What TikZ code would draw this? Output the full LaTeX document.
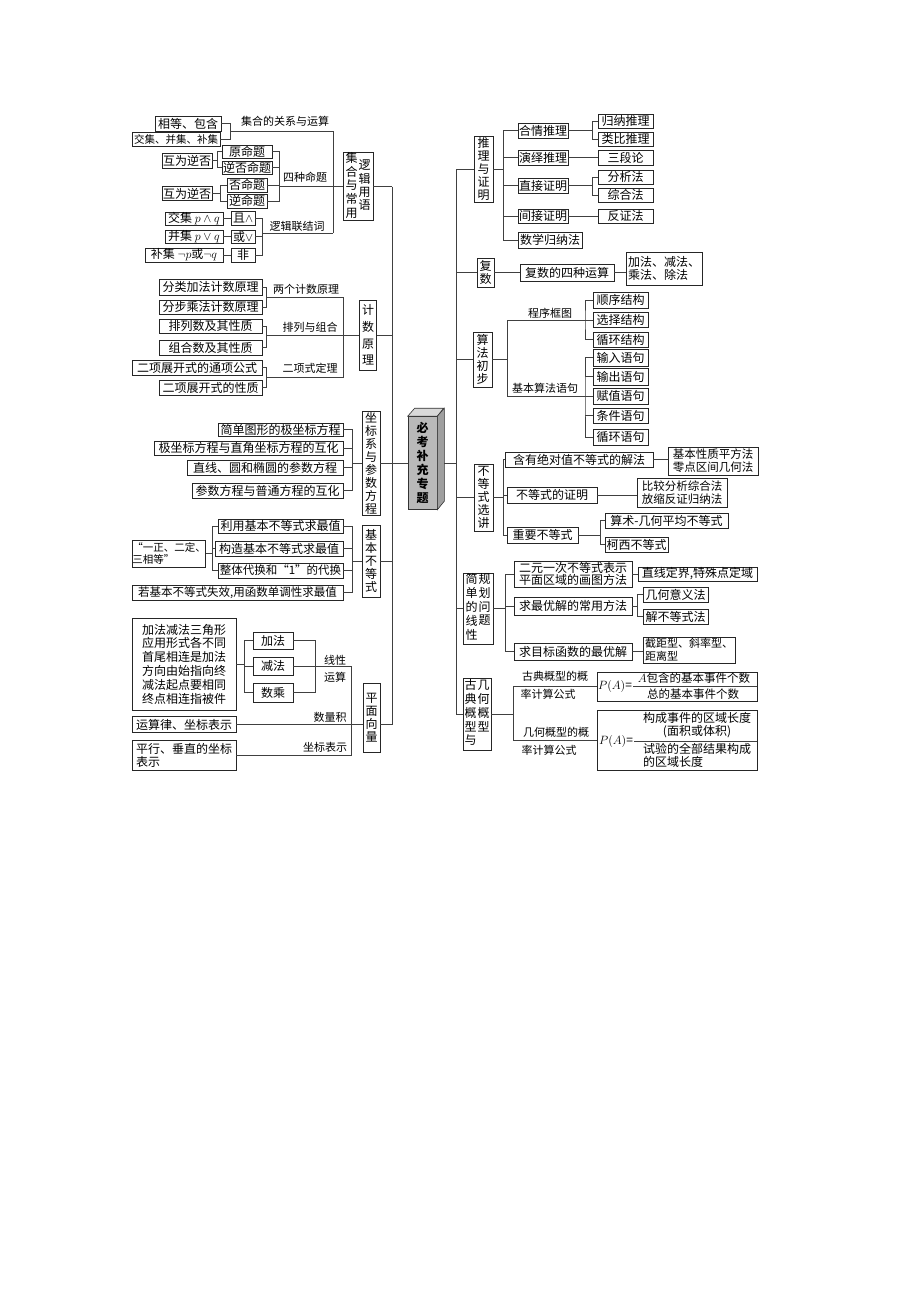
\documentclass[tikz,border=0pt]{standalone}
\usepackage{fontspec}
\setmainfont{Noto Sans CJK SC}
\usetikzlibrary{calc}
\newcommand\cnf{\fontsize{12}{13}\selectfont}
\newcommand\cnv{\fontsize{12}{13}\selectfont}
\newcommand\lbf{\fontsize{11}{12}\selectfont}
\newcommand\bx[7][]{\node[box,minimum width=#5pt,minimum height=#6pt,#1] (#2) at (#3,#4) {#7};}
\newcommand\tcol[2][c]{\begin{tabular}[#1]{@{}c@{}}#2\end{tabular}}
\begin{document}
\begin{tikzpicture}[x=1pt,y=-1pt,
  box/.style={draw=black!85,line width=0.9pt,fill=white,inner sep=0pt,font=\cnf,align=center},
  ln/.style={draw=black!75,line width=0.7pt},
  lab/.style={font=\lbf,inner sep=0pt}]
\fill[white] (0,0) rectangle (920,1302);
\useasboundingbox (0,0) rectangle (920,1302);

% ---------------- left: sets and logic
\bx{r1}{188}{123.5}{66}{15}{相等、包含}
\bx[font=\fontsize{10.5}{12}\selectfont]{r2}{176}{139}{88}{14}{交集、并集、补集}
\bx{yuan}{247}{151.5}{50}{13}{原命题}
\bx{nfou}{247}{167.5}{50}{13}{逆否命题}
\bx{fou}{247}{185}{40}{14}{否命题}
\bx{ni}{247}{201}{40}{14}{逆命题}
\bx{hw1}{187}{160.5}{50}{15}{互为逆否}
\bx{hw2}{187}{193.5}{50}{14}{互为逆否}
\bx{jiao}{194}{218.5}{58}{13}{交集\ $p\wedge q$}
\bx{qie}{243}{218.5}{24}{14}{且$\wedge$}
\bx{bing}{194}{236.5}{58}{13}{并集\ $p\vee q$}
\bx{huo}{243}{236.5}{24}{13}{或$\vee$}
\bx{bu}{184}{255}{78}{14}{补集\ $\neg p$或$\neg q$}
\bx{fei}{243}{255}{24}{14}{非}
\bx[font=\cnv]{L1}{358}{186.5}{30}{67}{\tcol{集\\合\\与\\常\\用}\hspace{1pt}\tcol{逻\\辑\\用\\语}}

\coordinate (jA) at (333,131);
\coordinate (jB) at (333,233);
\coordinate (T1) at (392,186.5);
\coordinate (T2) at (392,724.5);
\draw[ln] (r1.east) -- ++(9,0) coordinate (t1) |- (r2.east);
\draw[ln] (t1 |- jA) -- (jA) -- (jB);
\draw[ln] (yuan.east) -- ++(7,0) coordinate (t2) |- (ni.east);
\draw[ln] (nfou.east) -- (nfou.east -| t2);
\draw[ln] (fou.east) -- (fou.east -| t2);
\draw[ln] (t2 |- L1.west) -- (L1.west);
\draw[ln] (hw1.east) -- ++(5,0) coordinate (t3);
\draw[ln] (yuan.west) -| (t3) |- (nfou.west);
\draw[ln] (hw2.east) -- ++(8,0) coordinate (t4);
\draw[ln] (fou.west) -| (t4) |- (ni.west);
\draw[ln] (jiao.east) -- (qie.west);
\draw[ln] (bing.east) -- (huo.west);
\draw[ln] (bu.east) -- (fei.west);
\draw[ln] (qie.east) -- ++(7,0) coordinate (t5) |- (fei.east);
\draw[ln] (huo.east) -- (huo.east -| t5);
\draw[ln] (t5 |- jB) -- (jB);
\draw[ln] (L1.east) -- (T1);
\draw[ln] (T1) -- (T2);
\node[lab] (lb1) at (285,121) {集合的关系与运算};
\node[lab] (lb2) at (305,177) {四种命题};
\node[lab] (lb3) at (297,226) {逻辑联结词};

% ---------------- counting
\bx{c1}{210.5}{287}{103}{16}{分类加法计数原理}
\bx{c2}{210.5}{307}{103}{14}{分步乘法计数原理}
\bx{c3}{210.5}{326}{103}{14}{排列数及其性质}
\bx{c4}{210.5}{347.5}{103}{15}{组合数及其性质}
\bx{c5}{197}{367.5}{130}{15}{二项展开式的通项公式}
\bx{c6}{210.5}{387.5}{103}{15}{二项展开式的性质}
\bx[font=\fontsize{12}{16.7}\selectfont]{L2}{368}{335}{17}{70}{计\\数\\原\\理}
\coordinate (jC) at (343,297);
\coordinate (jD) at (343,377);
\draw[ln] (c1.east) -- ++(4,0) coordinate (t6) |- (c2.east);
\draw[ln] (c3.east) -- ++(4,0) coordinate (t7) |- (c4.east);
\draw[ln] (c5.east) -- ++(4,0) coordinate (t8) |- (c6.east);
\draw[ln] (t6 |- jC) -- (jC) -- (jD) -- (t8 |- jD);
\draw[ln] (t7 |- L2.west) -- (L2.west);
\draw[ln] (L2.east) -- (L2.east -| T1);
\node[lab] (lb4) at (306,289) {两个计数原理};
\node[lab] (lb5) at (310,327) {排列与组合};
\node[lab] (lb6) at (310,368) {二项式定理};

% ---------------- coordinates & parametric
\bx{k1}{280.5}{429.5}{125}{13}{简单图形的极坐标方程}
\bx{k2}{248.5}{448}{189}{14}{极坐标方程与直角坐标方程的互化}
\bx{k3}{265}{467.5}{156}{15}{直线、圆和椭圆的参数方程}
\bx{k4}{267.5}{490.5}{151}{15}{参数方程与普通方程的互化}
\bx[font=\cnv]{L3}{371}{463}{18}{104}{坐\\标\\系\\与\\参\\数\\方\\程}
\draw[ln] (k1.east) -- ++(9,0) coordinate (t9) |- (k4.east);
\draw[ln] (k2.east) -- (k2.east -| t9);
\draw[ln] (k3.east) -- (k3.east -| t9);
\draw[ln] (t9 |- L3.west) -- (L3.west);

% ---------------- basic inequality
\bx[font=\fontsize{10.5}{12.5}\selectfont,align=left]{b0}{169}{553.5}{72}{27}{“一正、二定、\\三相等”}
\bx{b1}{280.5}{526}{125}{14}{利用基本不等式求最值}
\bx{b2}{279}{548.5}{128}{15}{构造基本不等式求最值}
\bx[font=\fontsize{11.5}{12}\selectfont]{b3}{280.5}{570.5}{125}{15}{整体代换和“1”的代换}
\bx[font=\fontsize{11.5}{12}\selectfont]{b4}{237.5}{592.5}{211}{15}{若基本不等式失效,用函数单调性求最值}
\bx[font=\cnv]{L4}{371}{561}{18}{72}{基\\本\\不\\等\\式}
\draw[ln] (b0.east) -- ++(6,0) coordinate (t10);
\draw[ln] (b1.west) -| (t10) |- (b3.west);
\draw[ln] (b2.west) -- (b2.west -| t10);
\draw[ln] (b1.east) -- ++(9,0) coordinate (t11) |- (b4.east);
\draw[ln] (b2.east) -- (b2.east -| t11);
\draw[ln] (b3.east) -- (b3.east -| t11);
\draw[ln] (t11 |- L4.west) -- (L4.west);
\draw[ln] (L4.east) -- (L4.east -| T1);

% ---------------- plane vectors
\bx[align=left,font=\fontsize{12}{13.8}\selectfont]{v0}{184}{664}{104}{92}{加法减法三角形\\应用形式各不同\\首尾相连是加法\\方向由始指向终\\减法起点要相同\\终点相连指被件}
\bx{v1}{273}{640.5}{40}{17}{加法}
\bx{v2}{273}{666}{40}{18}{减法}
\bx{v3}{273}{692.5}{40}{19}{数乘}
\bx{v4}{184}{724.5}{104}{16}{运算律、坐标表示}
\bx[align=left]{v5}{184}{755}{104}{30}{平行、垂直的坐标\\表示}
\bx[font=\cnv]{L5}{371.5}{717.5}{17}{69}{平\\面\\向\\量}
\coordinate (jF) at (351,666);
\coordinate (jG) at (351,755);
\draw[ln] (v0.east) -- ++(8,0) coordinate (t12);
\draw[ln] (v1.west) -| (t12) |- (v3.west);
\draw[ln] (v2.west) -- (v2.west -| t12);
\draw[ln] (v1.east) -- ++(22,0) coordinate (t13) |- (v3.east);
\draw[ln] (v2.east) -- (jF) -- (jG) -- (v5.east);
\draw[ln] (v4.east) -- (v4.east -| L5.west);
\draw[ln] (v4.east -| L5.east) -- (T2);
\node[lab] (lb7) at (335,660) {线性};
\node[lab] (lb8) at (335,677) {运算};
\node[lab] (lb9) at (330,717) {数量积};
\node[lab] (lb10) at (325,747) {坐标表示};

% ---------------- centre
\coordinate (T3) at (456,169);
\coordinate (T4) at (456,714);
\node[draw=black!80,fill=gray!55,line width=0.6pt,minimum width=29pt,minimum height=93pt,inner sep=0pt,align=center,font=\fontsize{12}{14}\selectfont\bfseries] (C) at (422.5,463) {必\\考\\补\\充\\专\\题};
\filldraw[draw=black!80,fill=gray!30,line width=0.6pt] (C.north west) -- ++(7,-8) -- ++(29,0) -- (C.north east) -- cycle;
\filldraw[draw=black!80,fill=gray!75,line width=0.6pt] (C.north east) -- ++(7,-8) -- ++(0,93) -- (C.south east) -- cycle;
\draw[ln] (L3.east) -- (C.west);
\draw[ln] ($(C.east)+(7,0)$) -- (C.east -| T3);
\draw[ln] (T3) -- (T4);

% ---------------- right: reasoning
\bx[font=\cnv]{R1}{483.5}{169}{19}{66}{推\\理\\与\\证\\明}
\bx{p1}{543}{130.5}{50}{15}{合情推理}
\bx{p2}{543}{157.5}{50}{15}{演绎推理}
\bx{p3}{543}{185.5}{50}{15}{直接证明}
\bx{p4}{543}{216}{50}{14}{间接证明}
\bx{p5}{550}{240}{64}{16}{数学归纳法}
\bx{q1}{625.5}{121}{55}{14}{归纳推理}
\bx{q2}{625.5}{139}{55}{14}{类比推理}
\bx{q3}{625.5}{157.5}{55}{15}{三段论}
\bx{q4}{625.5}{177}{55}{14}{分析法}
\bx{q5}{625.5}{195}{55}{14}{综合法}
\bx{q6}{625.5}{216}{55}{14}{反证法}
\draw[ln] (T3) -- (R1.west);
\draw[ln] (R1.east) -- ++(10,0) coordinate (t14);
\draw[ln] (p1.west) -| (t14) |- (p5.west);
\draw[ln] (p2.west) -- (p2.west -| t14);
\draw[ln] (p3.west) -- (p3.west -| t14);
\draw[ln] (p4.west) -- (p4.west -| t14);
\draw[ln] (p1.east) -- ++(24,0) coordinate (t15);
\draw[ln] (q1.west) -| (t15) |- (q2.west);
\draw[ln] (p2.east) -- (q3.west);
\draw[ln] (p3.east) -- ++(24,0) coordinate (t16);
\draw[ln] (q4.west) -| (t16) |- (q5.west);
\draw[ln] (p4.east) -- (q6.west);

% ---------------- complex numbers
\bx[font=\cnv]{R2}{485.5}{272.5}{17}{29}{复\\数}
\bx{f1}{567}{272.5}{94}{17}{复数的四种运算}
\bx[align=left]{f2}{664}{268.5}{76}{33}{加法、减法、\\乘法、除法}
\draw[ln] (R2.west -| T3) -- (R2.west);
\draw[ln] (R2.east) -- (f1.west);
\draw[ln] (f1.east) -- (f1.east -| f2.west);

% ---------------- algorithms
\bx[font=\cnv]{R3}{482.5}{359.5}{19}{55}{算\\法\\初\\步}
\bx{a1}{620.5}{300}{55}{16}{顺序结构}
\bx{a2}{620.5}{320}{55}{15}{选择结构}
\bx{a3}{620.5}{339.5}{55}{15}{循环结构}
\bx{s1}{620.5}{357.5}{55}{17}{输入语句}
\bx{s2}{620.5}{376.5}{55}{17}{输出语句}
\bx{s3}{620.5}{396}{55}{16}{赋值语句}
\bx{s4}{620.5}{415.5}{55}{15}{条件语句}
\bx{s5}{620.5}{437}{55}{16}{循环语句}
\coordinate (t18) at (585,320);
\coordinate (t19) at (585,396);
\draw[ln] (R3.west -| T3) -- (R3.west);
\draw[ln] (R3.east) -- ++(15,0) coordinate (t17);
\draw[ln] (t18) -| (t17) |- (t19);
\draw[ln] (a1.west) -| (t18) |- (a3.west);
\draw[ln] (a2.west) -- (t18);
\draw[ln] (s1.west) -| (t19) |- (s5.west);
\draw[ln] (s2.west) -- (s2.west -| t19);
\draw[ln] (s3.west) -- (t19);
\draw[ln] (s4.west) -- (s4.west -| t19);
\node[lab] (lb11) at (550,313) {程序框图};
\node[lab] (lb12) at (545,388) {基本算法语句};

% ---------------- inequality selected
\bx[font=\cnv]{R4}{483.5}{497.5}{19}{67}{不\\等\\式\\选\\讲}
\bx{i1}{579}{459.5}{148}{15}{含有绝对值不等式的解法}
\bx{i2}{552}{495}{90}{16}{不等式的证明}
\bx{i3}{542.5}{535}{71}{16}{重要不等式}
\bx[align=left,font=\fontsize{11.5}{13}\selectfont]{j1}{713}{461}{90}{28}{基本性质平方法\\零点区间几何法}
\bx[align=left,font=\fontsize{11.5}{13}\selectfont]{j2}{682}{492.5}{90}{29}{比较分析综合法\\放缩反证归纳法}
\bx{j3}{666.5}{520.5}{123}{15}{算术-几何平均不等式}
\bx{j4}{636.5}{544.5}{63}{15}{柯西不等式}
\draw[ln] (R4.west -| T3) -- (R4.west);
\draw[ln] (R4.east) -- ++(10,0) coordinate (t20);
\draw[ln] (i1.west) -| (t20) |- (i3.west);
\draw[ln] (i2.west) -- (i2.west -| t20);
\draw[ln] (i1.east) -- (i1.east -| j1.west);
\draw[ln] (i2.east) -- (i2.east -| j2.west);
\draw[ln] (i3.east) -- ++(22,0) coordinate (t21);
\draw[ln] (j3.west) -| (t21) |- (j4.west);

% ---------------- linear programming
\bx[font=\cnv]{R5}{478}{608.5}{30}{71}{\tcol[t]{简\\单\\的\\线\\性}\hspace{1pt}\tcol[t]{规\\划\\问\\题}}
\bx[font=\fontsize{12}{12.5}\selectfont]{g1}{573}{574}{118}{26}{二元一次不等式表示\\平面区域的画图方法}
\bx{g2}{573}{606}{118}{18}{求最优解的常用方法}
\bx{g3}{573}{651.5}{118}{17}{求目标函数的最优解}
\bx{h1}{697.5}{574}{119}{14}{直线定界,特殊点定域}
\bx{h2}{675.5}{594.5}{65}{15}{几何意义法}
\bx{h3}{675.5}{616.5}{65}{15}{解不等式法}
\bx[align=left,font=\fontsize{11}{12.5}\selectfont]{h4}{689}{650}{92}{26}{截距型、斜率型、\\距离型}
\draw[ln] (R5.west -| T3) -- (R5.west);
\draw[ln] (R5.east) -- ++(12,0) coordinate (t22);
\draw[ln] (g1.west) -| (t22) |- (g3.west);
\draw[ln] (g2.west) -- (g2.west -| t22);
\draw[ln] (g1.east) -- (g1.east -| h1.west);
\draw[ln] (g2.east) -- ++(5,0) coordinate (t23);
\draw[ln] (h2.west) -| (t23) |- (h3.west);
\draw[ln] (g3.east) -- (g3.east -| h4.west);

% ---------------- probability
\bx[font=\cnv]{R6}{477}{714}{28}{72}{\tcol[t]{古\\典\\概\\型\\与}\hspace{1pt}\tcol[t]{几\\何\\概\\型}}
\node[box,minimum width=160pt,minimum height=29pt] (F1) at (677,686.5) {};
\node[box,minimum width=160pt,minimum height=60pt] (F2) at (677,740) {};
\node[inner sep=0pt,font=\cnf] (F1p) at (615,686.5) {$P(A)$=};
\node[inner sep=0pt,font=\fontsize{11.5}{13}\selectfont] (F1n) at (694,678) {$A$包含的基本事件个数};
\node[inner sep=0pt,font=\fontsize{11.5}{13}\selectfont] (F1d) at (693,694.5) {总的基本事件个数};
\node[inner sep=0pt,font=\cnf] (F2p) at (616,741) {$P(A)$=};
\node[inner sep=0pt,font=\cnf,align=center] (F2n) at (697,725) {构成事件的区域长度\\(面积或体积)};
\node[inner sep=0pt,font=\cnf,align=left] (F2d) at (697,755.5) {试验的全部结果构成\\的区域长度};
\draw[ln] (F1p.east) ++(1,0) -- (F1.east);
\draw[ln] (F2p.east) ++(1,0) -- (F2.east |- F2p.east);
\draw[ln] (T4) -- (R6.west);
\draw[ln] (R6.east) -- ++(22,0) coordinate (t24);
\draw[ln] (F1.west) -| (t24) |- (F2.west);
\node[lab] (lb13) at (555,676) {古典概型的概};
\node[lab] (lb14) at (548,694) {率计算公式};
\node[lab] (lb15) at (556,732) {几何概型的概};
\node[lab] (lb16) at (549,750) {率计算公式};
\end{tikzpicture}
\end{document}
